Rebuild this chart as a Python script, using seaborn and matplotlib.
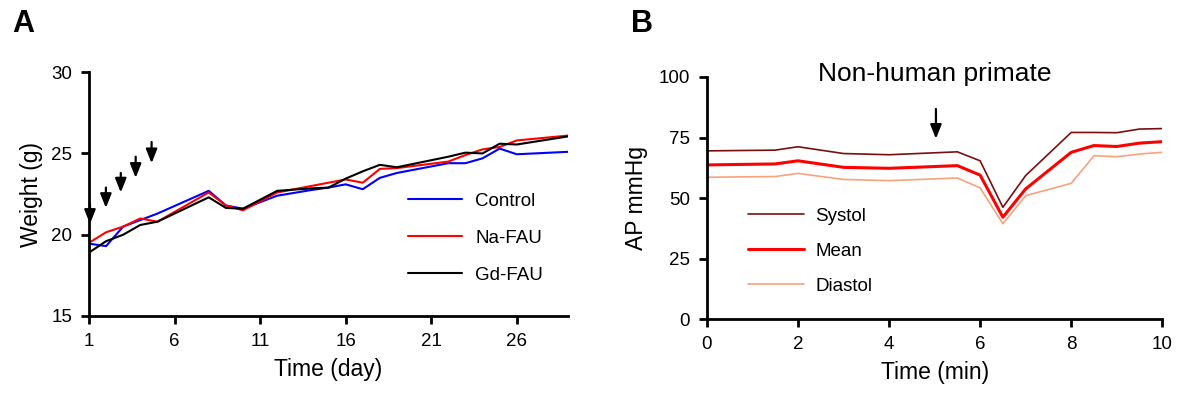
import numpy as np
import pandas as pd
import seaborn as sns
import matplotlib.pyplot as plt

# ---------------- data ----------------
# Panel A: body weight over days
days = [1, 2, 3, 4, 5, 8, 9, 10, 12, 14, 15, 16, 17, 18, 19, 22, 23, 24, 25, 26, 29]
control = [19.45, 19.3, 20.5, 20.9, 21.3, 22.7, 21.8, 21.6, 22.4, 22.75, 22.9,
           23.1, 22.8, 23.5, 23.8, 24.4, 24.4, 24.7, 25.3, 24.95, 25.1]
na_fau = [19.5, 20.15, 20.5, 21.0, 20.8, 22.6, 21.8, 21.5, 22.6, 23.0, 23.2,
          23.4, 23.2, 24.05, 24.1, 24.5, 24.9, 25.25, 25.4, 25.8, 26.1]
gd_fau = [18.9, 19.6, 20.0, 20.6, 20.8, 22.3, 21.65, 21.6, 22.7, 22.85, 22.9,
          23.45, 23.9, 24.3, 24.15, 24.8, 25.05, 25.0, 25.6, 25.55, 26.05]
groups_a = ["Control", "Na-FAU", "Gd-FAU"]

# injection arrows (day, tail, tip)
arrow_days = [1.06, 1.99, 2.86, 3.73, 4.66]
arrow_tail = [21.9, 22.9, 23.8, 24.8, 25.7]
arrow_tip = [20.67, 21.65, 22.6, 23.5, 24.4]

# Panel B: arterial pressure, non-human primate
minutes = [0, 1.5, 2, 3, 4, 5.5, 6, 6.5, 7, 8, 8.5, 9, 9.5, 10]
systol = [69.5, 69.8, 71.2, 68.4, 67.9, 69.1, 65.4, 46.2, 59.3, 77.1, 77.1, 77.0, 78.5, 78.7]
mean_ap = [63.7, 64.1, 65.4, 62.7, 62.3, 63.4, 59.5, 42.1, 53.8, 68.9, 71.7, 71.3, 72.7, 73.3]
diastol = [58.6, 58.9, 60.2, 57.7, 57.2, 58.3, 54.2, 39.4, 51.0, 56.1, 67.5, 67.1, 68.2, 68.9]
groups_b = ["Systol", "Mean", "Diastol"]

df_a = pd.DataFrame({
    "day": days * 3,
    "weight": control + na_fau + gd_fau,
    "group": np.repeat(groups_a, len(days)),
})
df_b = pd.DataFrame({
    "t": minutes * 3,
    "ap": systol + mean_ap + diastol,
    "series": np.repeat(groups_b, len(minutes)),
})

# ---------------- style ----------------
sns.set_style("ticks")
plt.rcParams["font.family"] = ["Liberation Sans", "DejaVu Sans"]
plt.rcParams["axes.linewidth"] = 2
for key in ["text.color", "axes.labelcolor", "xtick.color", "ytick.color", "axes.edgecolor"]:
    plt.rcParams[key] = "black"

fig = plt.figure(figsize=(11.86, 4.01), dpi=100)
ax1 = fig.add_axes([0.075, 0.212, 0.404, 0.608])
ax2 = fig.add_axes([0.596, 0.204, 0.384, 0.604])

arrow_props = dict(arrowstyle="-|>,head_length=0.6,head_width=0.24",
                   color="black", lw=1.6, mutation_scale=14, shrinkA=0, shrinkB=0)

# ---------------- panel A ----------------
sns.lineplot(data=df_a, x="day", y="weight", hue="group", hue_order=groups_a,
             palette={"Control": "#0000ff", "Na-FAU": "#ff0000", "Gd-FAU": "#000000"},
             linewidth=1.5, ax=ax1)
for x, y0, y1 in zip(arrow_days, arrow_tail, arrow_tip):
    ax1.annotate("", xy=(x, y1), xytext=(x, y0), annotation_clip=False,
                 arrowprops=arrow_props)
ax1.set_xlim(1, 29)
ax1.set_ylim(15, 30)
ax1.set_xticks([1, 6, 11, 16, 21, 26])
ax1.set_yticks([15, 20, 25, 30])
ax1.set_xlabel("Time (day)", fontsize=16.5, labelpad=6)
ax1.set_ylabel("Weight (g)", fontsize=16.5, labelpad=6)
ax1.legend(loc="upper left", bbox_to_anchor=(0.665, 0.505), frameon=False,
           fontsize=13.5, handlelength=2.9, labelspacing=1.05, borderpad=0,
           borderaxespad=0, handletextpad=0.7)

# ---------------- panel B ----------------
sns.lineplot(data=df_b, x="t", y="ap", hue="series", hue_order=groups_b,
             palette={"Systol": "#7a0f0f", "Mean": "#ff0000", "Diastol": "#f9a27e"},
             size="series", sizes={"Systol": 1.2, "Mean": 2.2, "Diastol": 1.2},
             ax=ax2)
ax2.annotate("", xy=(5.03, 74.5), xytext=(5.03, 86.8), arrowprops=arrow_props)
ax2.set_xlim(0, 10)
ax2.set_ylim(0, 100)
ax2.set_xticks([0, 2, 4, 6, 8, 10])
ax2.set_yticks([0, 25, 50, 75, 100])
ax2.set_xlabel("Time (min)", fontsize=16.5, labelpad=6)
ax2.set_ylabel("AP mmHg", fontsize=16.5, labelpad=8)
ax2.set_title("Non-human primate", fontsize=19, pad=0, y=0.985)
ax2.legend(loc="upper left", bbox_to_anchor=(0.09, 0.46), frameon=False,
           fontsize=13.5, handlelength=3.0, labelspacing=0.95, borderpad=0,
           borderaxespad=0, handletextpad=0.6)

for ax in (ax1, ax2):
    sns.despine(ax=ax)
    ax.tick_params(direction="out", length=6, width=2, labelsize=13.5, pad=6)

fig.text(0.010, 0.94, "A", fontsize=22, fontweight="bold", va="center")
fig.text(0.532, 0.94, "B", fontsize=22, fontweight="bold", va="center")

fig.savefig("out.png", dpi=100)
